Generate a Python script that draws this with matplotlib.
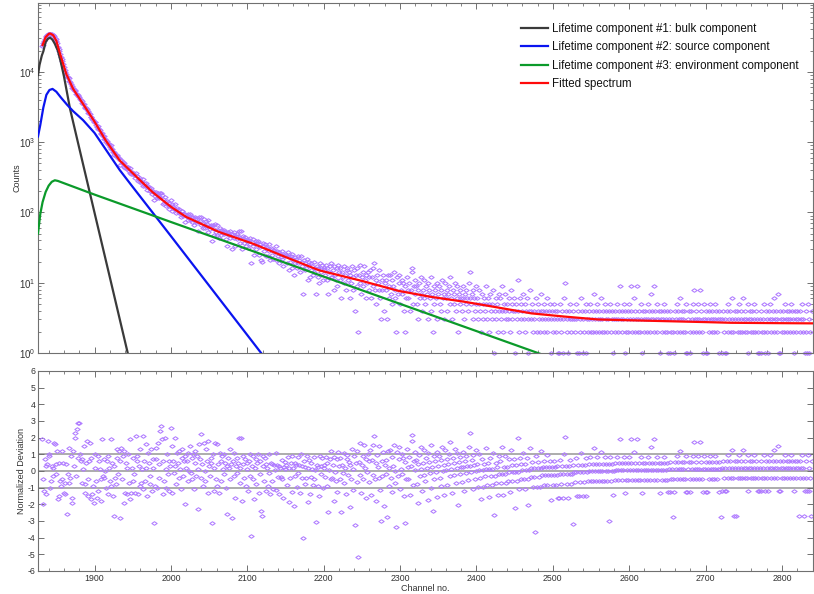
import numpy as np
import matplotlib
matplotlib.use("Agg")
import matplotlib.pyplot as plt
from matplotlib.path import Path
from matplotlib.ticker import MultipleLocator, LogLocator, NullFormatter

plt.rcParams['font.family'] = ['Liberation Sans', 'DejaVu Sans']
plt.rcParams['axes.unicode_minus'] = False

# ---- measured spectrum (one value per channel, starting at first_channel) ----
first_channel = 1831

counts_peak = [
    22890, 23920, 25480, 27200, 29320, 31050, 31750, 33070, 34130, 34670,
    34990, 34810, 34590, 34260, 33640, 32950, 32100, 30680, 29070, 27470,
    25390, 22840, 20980, 19470, 17720, 16285, 15040, 14040, 12960, 11760,
    10750, 10030, 9340, 8556, 8320, 8020, 7420, 7050, 6780, 6200,
    5896, 5791, 5512, 5435, 5254, 4879, 4892, 4594, 4572, 4398,
    4114, 3937, 3803, 3578, 3486, 3437, 3146, 3055, 3007, 2966,
    2734, 2573, 2580, 2544, 2277, 2308, 2124, 2059, 1935, 1959,
    1913, 1765, 1654, 1687, 1532, 1543, 1464, 1333, 1322, 1348,
    1219, 1204, 1117, 1090, 1008, 1023, 925, 963, 908, 853,
    895, 785, 797, 714, 656, 711, 669, 635, 665, 630,
]
counts_decay = [
    584, 597, 561, 469, 553, 497, 516, 442, 498, 433,
    461, 410, 432, 438, 394, 364, 426, 354, 374, 350,
    368, 340, 312, 366, 331, 328, 281, 303, 276, 306,
    265, 273, 298, 240, 262, 237, 265, 238, 206, 240,
    225, 201, 204, 221, 182, 204, 193, 148, 171, 198,
    184, 159, 191, 160, 167, 189, 190, 175, 132, 153,
    137, 165, 139, 123, 145, 128, 134, 112, 125, 149,
    104, 132, 120, 111, 131, 111, 98, 116, 108, 97,
    111, 99, 85, 103, 106, 89, 96, 72, 95, 88,
    91, 94, 77, 82, 95, 79, 86, 74, 86, 67,
    80, 86, 72, 81, 55, 73, 85, 76, 66, 87,
    71, 60, 80, 66, 60, 75, 68, 77, 52, 64,
    58, 66, 63, 39, 66, 48, 58, 69, 52, 67,
    47, 56, 43, 60, 56, 47, 57, 51, 49, 57,
    53, 42, 50, 33, 53, 48, 43, 55, 49, 30,
    49, 43, 52, 33, 46, 49, 42, 46, 55, 37,
    43, 54, 30, 43, 46, 37, 44, 33, 39, 41,
    31, 41, 43, 35, 19, 38, 42, 33, 25, 36,
    39, 30, 37, 39, 25, 32, 36, 21, 20, 37,
    33, 28, 35, 24, 32, 31, 24, 35, 28, 21,
]
counts_slope = [
    31, 25, 30, 22, 29, 27, 33, 21, 28, 24,
    27, 19, 26, 23, 28, 22, 17, 25, 24, 26,
    25, 19, 27, 15, 23, 20, 24, 26, 16, 22,
    13, 23, 19, 22, 16, 24, 19, 21, 14, 24,
    17, 20, 7, 21, 15, 19, 16, 22, 11, 18,
    20, 12, 19, 15, 17, 13, 20, 14, 16, 7,
    17, 12, 16, 10, 19, 16, 14, 18, 11, 16,
    15, 13, 18, 11, 16, 7, 14, 17, 12, 19,
    12, 15, 8, 17, 13, 11, 16, 9, 18, 14,
    11, 16, 6, 14, 12, 17, 10, 13, 8, 15,
    16, 11, 14, 6, 13, 10, 17, 12, 8, 15,
    4, 13, 9, 16, 2, 13, 10, 18, 7, 12,
    14, 9, 17, 11, 6, 13, 10, 14, 8, 12,
    15, 6, 12, 9, 16, 19, 8, 11, 5, 13,
    10, 8, 15, 6, 3, 11, 8, 13, 4, 10,
    11, 8, 3, 13, 9, 6, 13, 7, 11, 5,
    9, 14, 6, 8, 2, 12, 7, 10, 13, 5,
    8, 11, 7, 10, 4, 2, 9, 6, 12, 8,
    6, 10, 4, 8, 16, 14, 5, 9, 11, 7,
    9, 5, 8, 3, 10, 6, 12, 7, 4, 8,
    6, 11, 5, 9, 7, 3, 10, 8, 6, 12,
    4, 7, 2, 9, 5, 8, 6, 10, 3, 7,
    9, 5, 8, 4, 11, 6, 7, 3, 10, 6,
    8, 4, 7, 9, 5, 12, 6, 3, 8, 5,
    7, 10, 4, 6, 9, 2, 7, 5, 8, 6,
    4, 9, 6, 3, 7, 5, 8, 6, 4, 10,
    6, 14, 5, 7, 3, 8, 6, 4, 9, 5,
    6, 3, 5, 8, 4, 2, 7, 5, 3, 6,
    4, 9, 5, 3, 6, 2, 5, 7, 4, 3,
    5, 8, 1, 4, 6, 3, 5, 2, 7, 4,
]
counts_tail = [
    6, 3, 4, 9, 2, 5, 4, 7, 3, 5,
    3, 6, 4, 2, 8, 5, 3, 4, 6, 1,
    4, 5, 3, 11, 4, 2, 6, 3, 5, 4,
    7, 3, 2, 5, 4, 6, 3, 1, 4, 8,
    3, 4, 5, 2, 4, 3, 0, 6, 2, 4,
    5, 3, 2, 4, 7, 3, 4, 2, 5, 3,
    4, 2, 6, 3, 4, 5, 1, 3, 4, 2,
    3, 5, 4, 2, 3, 4, 1, 1, 3, 5,
    2, 4, 3, 1, 6, 10, 4, 2, 3, 1,
    4, 3, 5, 2, 3, 4, 0, 3, 2, 5,
    3, 1, 4, 1, 2, 3, 6, 4, 1, 3,
    2, 4, 1, 5, 3, 2, 4, 3, 5, 2,
    3, 4, 2, 7, 3, 4, 2, 5, 3, 2,
    4, 3, 6, 2, 3, 4, 2, 5, 3, 4,
    2, 3, 0, 4, 5, 2, 3, 4, 1, 3,
    4, 2, 3, 5, 3, 2, 4, 9, 3, 4,
    2, 3, 5, 1, 4, 2, 3, 4, 2, 5,
    3, 9, 4, 2, 3, 6, 2, 4, 3, 9,
    2, 3, 4, 2, 5, 3, 1, 4, 3, 2,
    4, 3, 2, 5, 3, 4, 2, 3, 7, 4,
    3, 9, 2, 4, 3, 5, 2, 3, 4, 1,
    3, 4, 2, 3, 5, 4, 2, 3, 4, 2,
    1, 3, 1, 4, 2, 3, 0, 2, 1, 4,
    3, 5, 2, 4, 3, 2, 6, 3, 4, 2,
    3, 4, 2, 5, 1, 1, 3, 4, 1, 2,
    4, 3, 5, 2, 8, 3, 4, 2, 3, 5,
    2, 3, 8, 4, 2, 3, 1, 5, 3, 1,
    4, 1, 3, 2, 4, 5, 3, 2, 4, 3,
    2, 5, 3, 4, 2, 3, 1, 4, 3, 0,
    1, 3, 4, 2, 1, 3, 1, 4, 5, 2,
    3, 4, 2, 6, 3, 2, 0, 4, 3, 0,
    4, 2, 3, 5, 2, 4, 3, 2, 6, 3,
    2, 4, 3, 2, 1, 5, 3, 4, 2, 3,
    4, 2, 5, 3, 2, 4, 3, 1, 2, 1,
    3, 4, 1, 2, 3, 5, 2, 1, 4, 3,
    2, 1, 4, 3, 5, 2, 3, 4, 2, 6,
    3, 4, 2, 3, 7, 1, 1, 4, 3, 2,
    4, 3, 2, 5, 3, 4, 2, 3, 4, 2,
    3, 5, 4, 2, 3, 1, 4, 3, 2, 4,
    3, 0, 2, 4, 3, 5, 2, 3, 0, 1,
    4, 2, 1, 5, 3, 1, 2, 0, 4,
]

# ---- normalized deviation of each channel (same channels as above) ----
dev_peak = [
    1.9, -0.5, -2.0, -1.2, 0.7, 0.3, -1.4, 0.4, 1.8, 0.9,
    1.0, -1.0, -0.6, 0.3, 0.2, -0.3, 1.7, 1.6, 0.4, -0.2,
    1.2, -1.7, -1.5, 0.5, -0.6, -0.9, -0.5, 1.2, 0.5, -1.3,
    -1.4, -0.7, 0.4, -2.6, -0.2, 1.4, -0.7, -0.4, 0.9, -1.9,
    -1.6, 1.2, 0.3, 2.0, 2.3, -0.3, 2.5, 0.8, 2.9, 2.9,
    1.0, 0.6, 0.7, -0.7, 0.1, 1.5, -1.3, -0.8, 0.5, 1.8,
    -0.5, -1.5, 0.6, 1.7, -1.7, 0.8, -1.4, -0.9, -1.9, 0.2,
    1.0, -0.6, -1.6, 0.9, -1.2, 0.6, 0.1, -1.8, -0.5, 1.9,
    -0.3, 0.7, -0.4, 0.0, -1.0, 0.6, -1.4, 0.9, 0.2, -0.6,
    1.9, -0.9, 0.5, -1.5, -2.7, 0.3, -0.4, -0.8, 1.3, 0.8,
]
dev_decay = [
    -0.2, 1.2, 0.6, -2.8, 1.4, -0.5, 0.9, -1.9, 1.2, -1.3,
    0.5, -1.4, 0.2, 1.0, -0.7, -1.7, 1.9, -1.3, 0.2, -0.6,
    0.8, -0.2, -1.3, 2.1, 0.6, 0.9, -1.4, 0.3, -0.9, 1.3,
    -0.7, 0.1, 2.1, -1.1, 0.6, -0.6, 1.6, 0.2, -1.5, 1.1,
    0.5, -0.8, -0.3, 1.3, -1.2, 0.7, 0.2, -3.1, -0.9, 1.4,
    0.7, -1.0, 1.7, -0.4, 0.4, 2.4, 2.7, 1.9, -1.4, 0.6,
    -0.6, 2.0, 0.1, -1.0, 1.0, -0.2, 0.6, -1.2, 0.3, 2.6,
    -1.3, 1.5, 0.6, -0.1, 2.0, 0.3, -0.8, 1.1, 0.5, -0.4,
    1.2, 0.1, -1.1, 0.8, 1.3, -0.3, 0.6, -2.0, 0.9, 0.2,
    0.6, 1.1, -0.6, 0.0, 1.5, -0.1, 0.8, -0.5, 1.0, -1.1,
    0.5, 1.2, -0.3, 0.9, -2.3, 0.1, 1.6, 0.7, -0.4, 2.2,
    0.4, -0.9, 1.7, 0.0, -0.6, 1.3, 0.6, 1.8, -1.3, 0.3,
    -0.3, 0.8, 0.5, -3.1, 1.0, -1.2, 0.2, 1.7, -0.5, 1.6,
    -0.9, 0.4, -1.3, 1.1, 0.6, -0.6, 0.9, 0.1, -0.2, 1.0,
    0.5, -1.0, 0.3, -2.6, 0.8, 0.2, -0.5, 1.3, 0.4, -2.8,
    0.6, -0.3, 1.1, -1.6, 0.3, 0.8, -0.1, 0.5, 2.0, -0.7,
    0.2, 2.0, -1.8, 0.4, 0.9, -0.4, 0.7, -0.9, 0.1, 0.5,
    -1.2, 0.6, 1.0, -0.3, -3.9, 0.3, 0.9, -0.5, -1.7, 0.2,
    0.7, -0.8, 0.5, 1.0, -1.3, -0.2, 0.6, -2.4, -2.7, 0.9,
    0.3, -0.6, 0.8, -1.2, 0.4, 0.2, -0.9, 1.0, -0.1, -1.4,
]
dev_slope = [
    0.49, -0.57, 0.43, -1.1, 0.35, 0.04, 1.11, -1.11, 0.37, -0.34,
    0.3, -1.39, 0.21, -0.35, 0.67, -0.46, -1.63, 0.25, 0.12, 0.54,
    0.39, -0.83, 0.85, -1.83, 0.18, -0.39, 0.48, 0.88, -1.26, 0.21,
    -2.09, 0.49, -0.31, 0.38, -0.97, 0.84, -0.13, 0.34, -1.34, 1.0,
    -0.42, 0.31, -4.03, 0.58, -0.78, 0.25, -0.41, 0.92, -1.85, 0.18,
    0.66, -1.36, 0.51, -0.38, 0.14, -0.86, 0.85, -0.49, 0.07, -3.04,
    0.38, -0.91, 0.22, -1.51, 0.92, 0.29, -0.18, 0.78, -1.01, 0.38,
    0.16, -0.33, 0.87, -0.9, 0.49, -2.46, 0.04, 0.75, -0.47, 1.21,
    -0.42, 0.39, -1.78, 0.87, -0.05, -0.61, 0.73, -1.25, 1.17, 0.31,
    -0.49, 0.81, -2.47, 0.39, -0.11, 1.1, -0.69, 0.21, -1.37, 0.74,
    0.97, -0.26, 0.57, -2.17, 0.35, -0.48, 1.3, 0.15, -1.13, 0.93,
    -3.24, 0.48, -0.66, 1.21, -5.17, 0.56, -0.24, 1.66, -1.31, 0.39,
    0.89, -0.47, 1.56, 0.19, -1.62, 0.75, -0.05, 1.01, -0.67, 0.58,
    1.29, -1.43, 0.64, -0.21, 1.55, 2.11, -0.5, 0.46, -1.78, 0.99,
    0.23, -0.4, 1.48, -1.15, -3.0, 0.59, -0.3, 1.12, -2.12, 0.39,
    0.68, -0.2, -2.75, 1.22, 0.19, -0.89, 1.26, -0.42, 0.82, -1.27,
    0.3, 1.55, -0.74, 0.03, -3.38, 1.16, -0.27, 0.71, 1.44, -1.06,
    0.15, 1.01, -0.18, 0.77, -1.52, -3.12, 0.52, -0.49, 1.3, 0.25,
    -0.45, 0.84, -1.41, 0.3, 2.16, 1.8, -0.82, 0.63, 1.17, 0.04,
    0.67, -0.75, 0.4, -1.89, 0.98, -0.27, 1.47, 0.12, -1.17, 0.47,
    -0.22, 1.29, -0.62, 0.8, 0.19, -1.71, 1.09, 0.55, -0.12, 1.58,
    -1.02, 0.27, -2.42, 0.89, -0.48, 0.61, -0.05, 1.17, -1.55, 0.33,
    0.93, -0.42, 0.67, -0.88, 1.46, 0.02, 0.38, -1.45, 1.24, 0.06,
    0.72, -0.81, 0.43, 1.03, -0.3, 1.74, 0.11, -1.34, 0.78, -0.26,
    0.49, 1.33, -0.7, 0.17, 1.1, -2.03, 0.53, -0.19, 0.85, 0.22,
    -0.63, 1.14, 0.24, -1.18, 0.59, -0.13, 0.9, 0.28, -0.56, 1.44,
    0.3, 2.28, -0.07, 0.66, -1.06, 0.97, 0.35, -0.47, 1.26, 0.0,
    0.42, -0.95, 0.04, 1.03, -0.4, -1.67, 0.74, 0.04, -0.95, 0.42,
    -0.31, 1.36, 0.12, -0.85, 0.49, -1.56, 0.12, 0.81, -0.31, -0.85,
    0.12, 1.1, -2.62, -0.31, 0.49, -0.73, 0.22, -1.42, 0.9, -0.2,
]
dev_tail = [
    0.59, -0.73, -0.2, 1.44, -1.42, 0.22, -0.2, 0.9, -0.73, 0.22,
    -0.58, 0.7, -0.07, -1.24, 1.28, 0.35, -0.58, -0.07, 0.7, -2.23,
    -0.07, 0.35, -0.58, 1.98, -0.07, -1.1, 0.79, -0.45, 0.45, 0.04,
    1.1, -0.45, -1.1, 0.45, 0.04, 0.79, -0.45, -2.05, 0.04, 1.37,
    -0.33, 0.16, 0.55, -0.95, 0.16, -0.33, -3.65, 0.89, -0.95, 0.16,
    0.55, -0.33, -0.95, 0.16, 1.19, -0.23, 0.24, -0.84, 0.63, -0.23,
    0.24, -0.84, 0.96, -0.23, 0.24, 0.63, -1.73, -0.23, 0.24, -0.84,
    -0.23, 0.63, 0.24, -0.84, -0.23, 0.31, -1.63, -1.63, -0.15, 0.69,
    -0.75, 0.31, -0.15, -1.63, 1.02, 2.02, 0.31, -0.75, -0.15, -1.63,
    0.31, -0.15, 0.69, -0.75, -0.15, 0.38, -3.15, -0.08, -0.66, 0.76,
    -0.08, -1.52, 0.38, -1.52, -0.66, -0.08, 1.08, 0.38, -1.52, -0.08,
    -0.66, 0.38, -1.52, 0.76, -0.08, -0.58, 0.45, 0.0, 0.82, -0.58,
    0.0, 0.45, -0.58, 1.41, 0.0, 0.45, -0.58, 0.82, 0.0, -0.58,
    0.45, 0.0, 1.13, -0.58, 0.0, 0.45, -0.58, 0.82, 0.0, 0.45,
    -0.58, 0.0, -3.0, 0.45, 0.82, -0.58, 0.0, 0.45, -1.41, 0.0,
    0.49, -0.52, 0.05, 0.86, 0.05, -0.52, 0.49, 1.93, 0.05, 0.49,
    -0.52, 0.05, 0.86, -1.34, 0.49, -0.52, 0.05, 0.49, -0.52, 0.86,
    0.05, 1.93, 0.49, -0.52, 0.05, 1.17, -0.52, 0.49, 0.05, 1.93,
    -0.52, 0.05, 0.49, -0.52, 0.86, 0.05, -1.34, 0.49, 0.05, -0.52,
    0.49, 0.05, -0.52, 0.86, 0.05, 0.49, -0.52, 0.05, 1.45, 0.49,
    0.05, 1.93, -0.52, 0.49, 0.05, 0.86, -0.52, 0.05, 0.49, -1.34,
    0.05, 0.49, -0.52, 0.05, 0.86, 0.49, -0.52, 0.05, 0.49, -0.52,
    -1.26, 0.11, -1.26, 0.55, -0.45, 0.11, -2.78, -0.45, -1.26, 0.55,
    0.11, 0.91, -0.45, 0.55, 0.11, -0.45, 1.22, 0.11, 0.55, -0.45,
    0.11, 0.55, -0.45, 0.91, -1.26, -1.26, 0.11, 0.55, -1.26, -0.45,
    0.55, 0.11, 0.91, -0.45, 1.74, 0.11, 0.55, -0.45, 0.11, 0.91,
    -0.45, 0.11, 1.74, 0.55, -0.45, 0.11, -1.26, 0.91, 0.11, -1.26,
    0.55, -1.26, 0.11, -0.45, 0.55, 0.91, 0.11, -0.45, 0.55, 0.11,
    -0.45, 0.91, 0.11, 0.55, -0.45, 0.11, -1.26, 0.55, 0.11, -2.78,
    -1.19, 0.16, 0.59, -0.39, -1.19, 0.16, -1.19, 0.59, 0.95, -0.39,
    0.16, 0.59, -0.39, 1.26, 0.16, -0.39, -2.68, 0.59, 0.16, -2.68,
    0.59, -0.39, 0.16, 0.95, -0.39, 0.59, 0.16, -0.39, 1.26, 0.16,
    -0.39, 0.59, 0.16, -0.39, -1.19, 0.95, 0.16, 0.59, -0.39, 0.16,
    0.59, -0.39, 0.95, 0.16, -0.39, 0.59, 0.16, -1.19, -0.39, -1.19,
    0.16, 0.59, -1.19, -0.39, 0.16, 0.95, -0.39, -1.19, 0.59, 0.16,
    -0.39, -1.19, 0.59, 0.16, 0.95, -0.39, 0.16, 0.59, -0.39, 1.26,
    0.16, 0.59, -0.39, 0.16, 1.52, -1.19, -1.19, 0.59, 0.16, -0.39,
    0.59, 0.16, -0.39, 0.95, 0.16, 0.59, -0.39, 0.16, 0.59, -0.39,
    0.16, 0.95, 0.59, -0.39, 0.16, -1.19, 0.59, 0.16, -0.39, 0.59,
    0.16, -2.68, -0.39, 0.59, 0.16, 0.95, -0.39, 0.16, -2.68, -1.19,
    0.59, -0.39, -1.19, 0.95, 0.16, -1.19, -0.39, -2.68, 0.59,
]

# ---- fitted lifetime components ----
bulk_ch = [1826, 1828, 1831, 1833, 1836, 1839, 1842, 1845, 1848, 1852,
           1856, 1860, 1868, 1880, 1900, 1920, 1945]
bulk_counts = [9000, 12500, 17000, 19500, 26500, 29500, 30500, 28500, 25000, 19900,
               13500, 8600, 2950, 822, 99, 12, 0.85]

source_ch = [1826, 1829, 1833, 1837, 1841, 1845, 1850, 1856, 1864, 1872,
             1885, 1900, 1933, 1950, 2000, 2050, 2100, 2120]
source_counts = [1200, 1750, 3100, 4700, 5500, 5700, 5200, 4300, 3400, 2750,
                 2050, 1350, 400, 230, 46, 9.1, 1.8, 0.94]

env_ch = [1826, 1829, 1832, 1836, 1840, 1844, 1848, 1852, 1900, 2000,
          2100, 2200, 2300, 2400, 2485]
env_counts = [50, 95, 140, 195, 240, 272, 286, 280, 179, 73,
              30, 12.2, 5.0, 2.05, 0.96]

fit_ch = [1832, 1836, 1840, 1842, 1846, 1850, 1855, 1863, 1872, 1885,
          1900, 1915, 1933, 1955, 1976, 2000, 2020, 2063, 2107, 2150,
          2194, 2250, 2298, 2340, 2385, 2430, 2472, 2515, 2559, 2600,
          2646, 2700, 2733, 2790, 2840]
fit_counts = [24000, 31000, 34500, 35000, 33000, 27500, 17800, 9300, 5700, 3480,
              1950, 1040, 547, 320, 194, 120, 86, 52.6, 36, 23.2,
              15, 10.6, 7.65, 6.3, 5.34, 4.4, 3.66, 3.3, 3.0, 2.92,
              2.84, 2.75, 2.69, 2.66, 2.64]

legend_labels = [
    "Lifetime component #1: bulk component",
    "Lifetime component #2: source component",
    "Lifetime component #3: environment component",
    "Fitted spectrum",
]
ref_levels = [-1, 0, 1]

counts = np.concatenate([counts_peak, counts_decay, counts_slope, counts_tail]).astype(float)
dev = np.concatenate([dev_peak, dev_decay, dev_slope, dev_tail])
assert len(counts) == len(dev), (len(counts), len(dev))
channel = first_channel + np.arange(len(counts))

purple = "#b07cff"
spine_c = "#707070"
# flattened diamond like the original plotting program uses
diamond = Path([(-1, 0), (0, 0.68), (1, 0), (0, -0.68), (-1, 0)],
               [Path.MOVETO, Path.LINETO, Path.LINETO, Path.LINETO, Path.CLOSEPOLY])

W, H = 814, 594
fig = plt.figure(figsize=(W / 100, H / 100), dpi=100)
left = 38 / W
width = 1 - left - 1.5 / W
ax1 = fig.add_axes([left, 1 - 353 / H, width, 350 / H])
ax2 = fig.add_axes([left, 1 - 571 / H, width, 200 / H])

# ---- top: spectrum ----
ax1.set_yscale("log")
pos = counts > 0
ax1.plot(channel[pos], counts[pos], ls="none", marker=diamond, ms=3.8,
         mfc="none", mec=purple, mew=0.75, clip_on=False, zorder=2)
h1, = ax1.plot(bulk_ch, bulk_counts, color="#3a3a3a", lw=1.6, zorder=3)
h2, = ax1.plot(source_ch, source_counts, color="#0a14f0", lw=1.6, zorder=3)
h3, = ax1.plot(env_ch, env_counts, color="#0b9a2a", lw=1.6, zorder=3)
h4, = ax1.plot(fit_ch, fit_counts, color="#ff0a0a", lw=1.6, zorder=4)
ax1.set_xlim(1826, 2840)
ax1.set_ylim(1, 9.5e4)
ax1.yaxis.set_major_locator(LogLocator(base=10, numticks=10))
ax1.yaxis.set_minor_locator(LogLocator(base=10, subs=np.arange(2, 10), numticks=10))
ax1.yaxis.set_minor_formatter(NullFormatter())
ax1.set_ylabel("Counts", fontsize=6.5, color="#333333", labelpad=-2)
ax1.tick_params(labelbottom=False)

leg = fig.legend([h1, h2, h3, h4], legend_labels, loc="upper left",
                 bbox_to_anchor=(516 / W, 1 - 18.5 / H), frameon=False,
                 fontsize=8.3, handlelength=2.4, handletextpad=0.35,
                 labelspacing=0.55, borderaxespad=0)
for t in leg.get_texts():
    t.set_color("#111111")

# ---- bottom: normalized deviation ----
for lv in ref_levels:
    ax2.axhline(lv, color="#a6a6a6", lw=1.3, zorder=1)
ax2.plot(channel, dev, ls="none", marker=diamond, ms=3.8,
         mfc="none", mec=purple, mew=0.75, zorder=2)
ax2.set_xlim(1826, 2840)
ax2.set_ylim(-6, 6)
ax2.yaxis.set_major_locator(MultipleLocator(1))
ax2.set_ylabel("Normalized Deviation", fontsize=6.5, color="#333333", labelpad=1)
ax2.set_xlabel("Channel no.", fontsize=6.5, color="#333333", labelpad=1)

for ax in (ax1, ax2):
    ax.xaxis.set_major_locator(MultipleLocator(100))
    ax.xaxis.set_minor_locator(MultipleLocator(20))
    ax.tick_params(which="both", direction="in", top=True, right=True,
                   color=spine_c, labelsize=6.3, labelcolor="#333333", pad=2)
    ax.tick_params(which="major", length=4.5, width=0.7)
    ax.tick_params(which="minor", length=2.3, width=0.6)
    for s in ax.spines.values():
        s.set_color(spine_c)
        s.set_linewidth(0.8)

ax1.tick_params(axis="y", labelsize=7)

fig.savefig("out.png", dpi=100)
